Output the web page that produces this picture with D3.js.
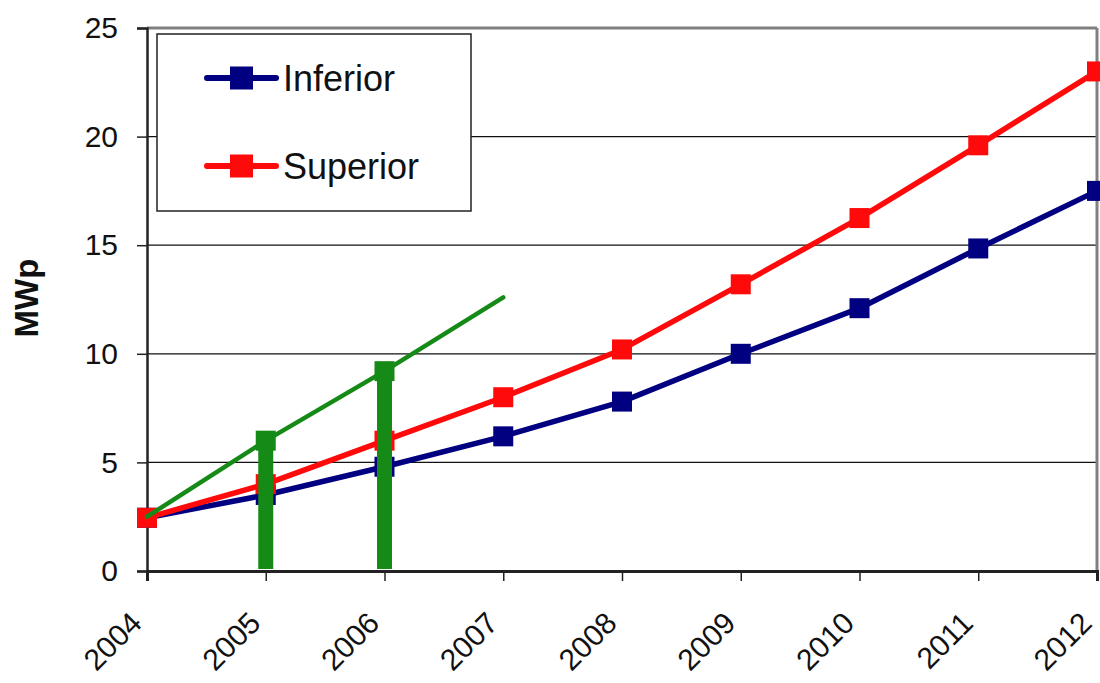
<!DOCTYPE html>
<html>
<head>
<meta charset="utf-8">
<script src="https://cdn.jsdelivr.net/npm/d3@7"></script>
<style>
  html, body { margin: 0; padding: 0; background: #fff; }
  svg { display: block; }
  text { font-family: "Liberation Sans", Arial, sans-serif; }
</style>
</head>
<body>
<svg id="chart" width="1100" height="683"></svg>
<script>
const years = [2004, 2005, 2006, 2007, 2008, 2009, 2010, 2011, 2012];
const inferior = [2.45, 3.5, 4.8, 6.2, 7.8, 10.0, 12.1, 14.85, 17.5];
const superior = [2.45, 4.0, 6.0, 8.0, 10.2, 13.2, 16.25, 19.6, 23.0];
const greenYears = [2004, 2005, 2006, 2007];
const greenValues = [2.5, 6.0, 9.2, 12.6];
const barYears = [2005, 2006];
const barValues = [6.0, 9.2];
const yTicks = [0, 5, 10, 15, 20, 25];
const seriesNames = ["Inferior", "Superior"];
const seriesColors = ["#000080", "#ff0a0a"];
const greenColor = "#168a16";

const svg = d3.select("#chart");
const x = d3.scaleLinear().domain([2004, 2012]).range([147, 1097]);
const y = d3.scaleLinear().domain([0, 25]).range([571, 28]);

// gridlines
svg.append("g").selectAll("line").data(yTicks.filter(t => t > 0 && t < 25)).join("line")
  .attr("x1", x(2004)).attr("x2", x(2012))
  .attr("y1", d => y(d)).attr("y2", d => y(d))
  .attr("stroke", "#111").attr("stroke-width", 1.2);

// top and right border
svg.append("line").attr("x1", x(2004)).attr("x2", x(2012)).attr("y1", y(25)).attr("y2", y(25))
  .attr("stroke", "#808080").attr("stroke-width", 3);
svg.append("line").attr("x1", x(2012)).attr("x2", x(2012)).attr("y1", y(25)).attr("y2", y(0))
  .attr("stroke", "#808080").attr("stroke-width", 3);

// y axis
const yAxis = svg.append("g").attr("transform", `translate(${x(2004)},0)`)
  .call(d3.axisLeft(y).tickValues(yTicks).tickSize(10).tickPadding(19).tickFormat(d3.format("d")));
yAxis.select(".domain").attr("stroke", "#222").attr("stroke-width", 2.5);
yAxis.selectAll(".tick line").attr("stroke", "#222").attr("stroke-width", 1.5);
yAxis.selectAll(".tick text").attr("font-size", 30).attr("fill", "#111")
  .style("font-family", "'Liberation Sans', Arial, sans-serif");

// x axis
const xAxis = svg.append("g").attr("transform", `translate(0,${y(0)})`)
  .call(d3.axisBottom(x).tickValues(years).tickSize(10).tickFormat(d3.format("d")));
xAxis.select(".domain").attr("stroke", "#222").attr("stroke-width", 3);
xAxis.selectAll(".tick line").attr("stroke", "#222").attr("stroke-width", 1.5);
xAxis.selectAll(".tick text")
  .attr("font-size", 30).attr("fill", "#111")
  .attr("text-anchor", "end")
  .attr("x", 0).attr("y", 0).attr("dy", 0)
  .attr("transform", "translate(-4,54) rotate(-45)")
  .style("font-family", "'Liberation Sans', Arial, sans-serif");

// y title
svg.append("text")
  .attr("transform", `translate(38,${298}) rotate(-90)`)
  .attr("text-anchor", "middle")
  .attr("font-size", 33).attr("font-weight", "bold").attr("fill", "#111")
  .text("MWp");

// series
const line = d3.line().x((d, i) => x(years[i])).y(d => y(d));
[inferior, superior].forEach((vals, k) => {
  const g = svg.append("g");
  g.append("path").datum(vals).attr("d", line)
    .attr("fill", "none").attr("stroke", seriesColors[k]).attr("stroke-width", 5.5)
    .attr("stroke-linejoin", "round");
  g.selectAll("rect").data(vals).join("rect")
    .attr("x", (d, i) => x(years[i]) - 10).attr("y", d => y(d) - 10)
    .attr("width", 20).attr("height", 20).attr("fill", seriesColors[k]);
});

// green projection
const gg = svg.append("g");
gg.selectAll("rect.bar").data(barValues).join("rect").attr("class", "bar")
  .attr("x", (d, i) => x(barYears[i]) - 7.5).attr("y", d => y(d))
  .attr("width", 15).attr("height", d => y(0) - y(d) - 2).attr("fill", greenColor);
gg.append("path").datum(greenValues)
  .attr("d", d3.line().x((d, i) => x(greenYears[i])).y(d => y(d)))
  .attr("fill", "none").attr("stroke", greenColor).attr("stroke-width", 4.5)
  .attr("stroke-linecap", "round");
gg.selectAll("rect.mk").data(barValues).join("rect").attr("class", "mk")
  .attr("x", (d, i) => x(barYears[i]) - 10).attr("y", d => y(d) - 10)
  .attr("width", 20).attr("height", 20).attr("fill", greenColor);

// legend
const lg = svg.append("g");
lg.append("rect").attr("x", 157).attr("y", 34).attr("width", 314).attr("height", 177)
  .attr("fill", "#fff").attr("stroke", "#222").attr("stroke-width", 1.5);
seriesNames.forEach((name, k) => {
  const cy = [78, 166][k];
  lg.append("line").attr("x1", 207).attr("x2", 276).attr("y1", cy).attr("y2", cy)
    .attr("stroke", seriesColors[k]).attr("stroke-width", 6).attr("stroke-linecap", "round");
  lg.append("rect").attr("x", 230).attr("y", cy - 11.5).attr("width", 23).attr("height", 23)
    .attr("fill", seriesColors[k]);
  lg.append("text").attr("x", 283).attr("y", cy + 13).attr("font-size", 36).attr("fill", "#111")
    .text(name);
});
</script>
</body>
</html>
